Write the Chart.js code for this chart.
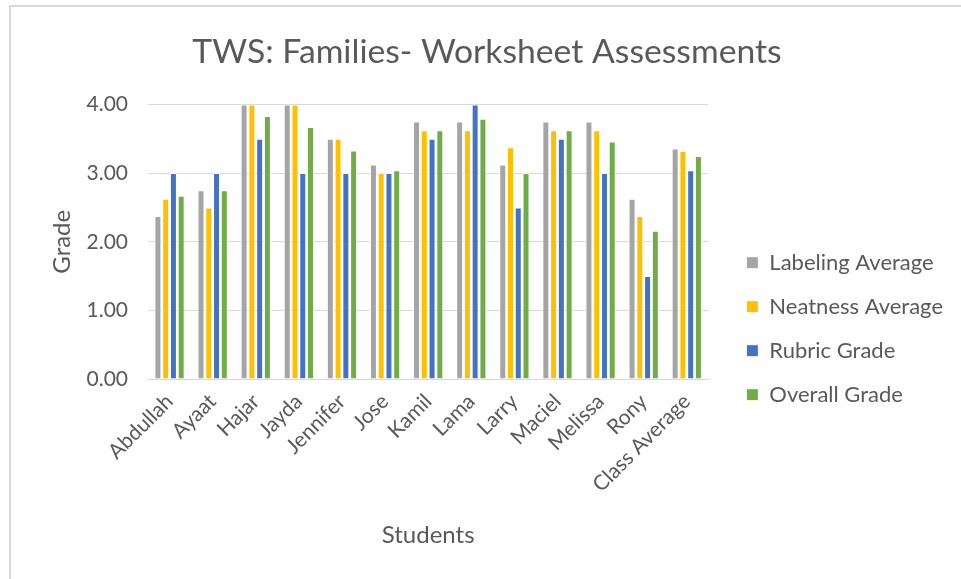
<!DOCTYPE html>
<html>
<head>
<meta charset="utf-8">
<script src="https://cdn.jsdelivr.net/npm/chart.js@4.4.1/dist/chart.umd.min.js"></script>
<style>
  body { margin: 0; background: #fff; }
  #frame {
    position: absolute; left: 9px; top: 5px; width: 960px; height: 580px;
    border-left: 2px solid #d9d9d9; border-top: 2px solid #d9d9d9;
  }
  #wrap { position: absolute; left: 0; top: 0; width: 950px; height: 572px; }
</style>
</head>
<body>
<div id="frame"><div id="wrap"><canvas id="gradeChart"></canvas></div></div>
<script>
// students + the class average at the end
const students = ['Abdullah', 'Ayaat', 'Hajar', 'Jayda', 'Jennifer', 'Jose', 'Kamil',
  'Lama', 'Larry', 'Maciel', 'Melissa', 'Rony', 'Class Average'];

const labelingAvg = [2.375, 2.75, 4.0, 4.0, 3.5, 3.125, 3.75, 3.75, 3.125, 3.75, 3.75, 2.625, 3.36];
const neatnessAvg = [2.625, 2.5, 4.0, 4.0, 3.5, 3.0, 3.625, 3.625, 3.375, 3.625, 3.625, 2.375, 3.32];
const rubricGrade = [3.0, 3.0, 3.5, 3.0, 3.0, 3.0, 3.5, 4.0, 2.5, 3.5, 3.0, 1.5, 3.04];
const overallGrade = [2.67, 2.75, 3.83, 3.67, 3.33, 3.04, 3.625, 3.79, 3.0, 3.625, 3.46, 2.16, 3.25];

const yTicks = [0, 1, 2, 3, 4];

const textColor = '#595959';
const fontFamily = 'Lato, "Noto Sans", sans-serif';

function makeSet(label, data, color) {
  return {
    label: label,
    data: data,
    backgroundColor: color,
    borderColor: '#ffffff',
    borderWidth: 1,
    borderSkipped: 'bottom',
    categoryPercentage: 0.72,
    barPercentage: 0.9
  };
}

const ctx = document.getElementById('gradeChart').getContext('2d');
const chart = new Chart(ctx, {
  type: 'bar',
  data: {
    labels: students,
    datasets: [
      makeSet('Labeling Average', labelingAvg, '#A5A5A5'),
      makeSet('Neatness Average', neatnessAvg, '#FFC000'),
      makeSet('Rubric Grade', rubricGrade, '#4472C4'),
      makeSet('Overall Grade', overallGrade, '#70AD47')
    ]
  },
  options: {
    responsive: true,
    maintainAspectRatio: false,
    animation: false,
    layout: { padding: { left: 10, right: 8, top: 0, bottom: 25 } },
    plugins: {
      title: {
        display: true,
        text: 'TWS: Families- Worksheet Assessments',
        color: textColor,
        font: { family: fontFamily, size: 33.7, weight: 'normal' },
        padding: { top: 25, bottom: 32 }
      },
      legend: {
        position: 'right',
        maxWidth: 260,
        // empty title only pushes the items down a bit
        title: { display: true, text: '', font: { size: 12 }, padding: { top: 0, bottom: 82 } },
        labels: {
          color: textColor,
          font: { family: fontFamily, size: 22 },
          boxWidth: 12,
          boxHeight: 12,
          padding: 22
        }
      },
      tooltip: { enabled: false }
    },
    scales: {
      x: {
        grid: { display: false },
        border: { color: '#d9d9d9', width: 1 },
        ticks: {
          color: textColor,
          font: { family: fontFamily, size: 21 },
          minRotation: 45,
          maxRotation: 45,
          padding: 2
        },
        title: {
          display: true,
          text: 'Students',
          color: textColor,
          font: { family: fontFamily, size: 24 },
          padding: { top: 22 }
        }
      },
      y: {
        min: 0,
        max: 4,
        afterBuildTicks: (axis) => { axis.ticks = yTicks.map(v => ({ value: v })); },
        afterFit: (scale) => { scale.width = 127; },
        grid: { color: '#d9d9d9', drawTicks: false },
        border: { display: false },
        ticks: {
          color: textColor,
          font: { family: fontFamily, size: 21 },
          padding: 20,
          callback: (v) => Number(v).toFixed(2)
        },
        title: {
          display: true,
          text: 'Grade',
          color: textColor,
          font: { family: fontFamily, size: 24 },
          padding: { top: 27, bottom: 0 }
        }
      },
      // empty spacer between the plot and the legend
      gap: {
        position: 'right',
        display: true,
        grid: { display: false },
        border: { display: false },
        ticks: { display: false },
        afterFit: (scale) => { scale.width = 16; }
      }
    }
  }
});
</script>
</body>
</html>
